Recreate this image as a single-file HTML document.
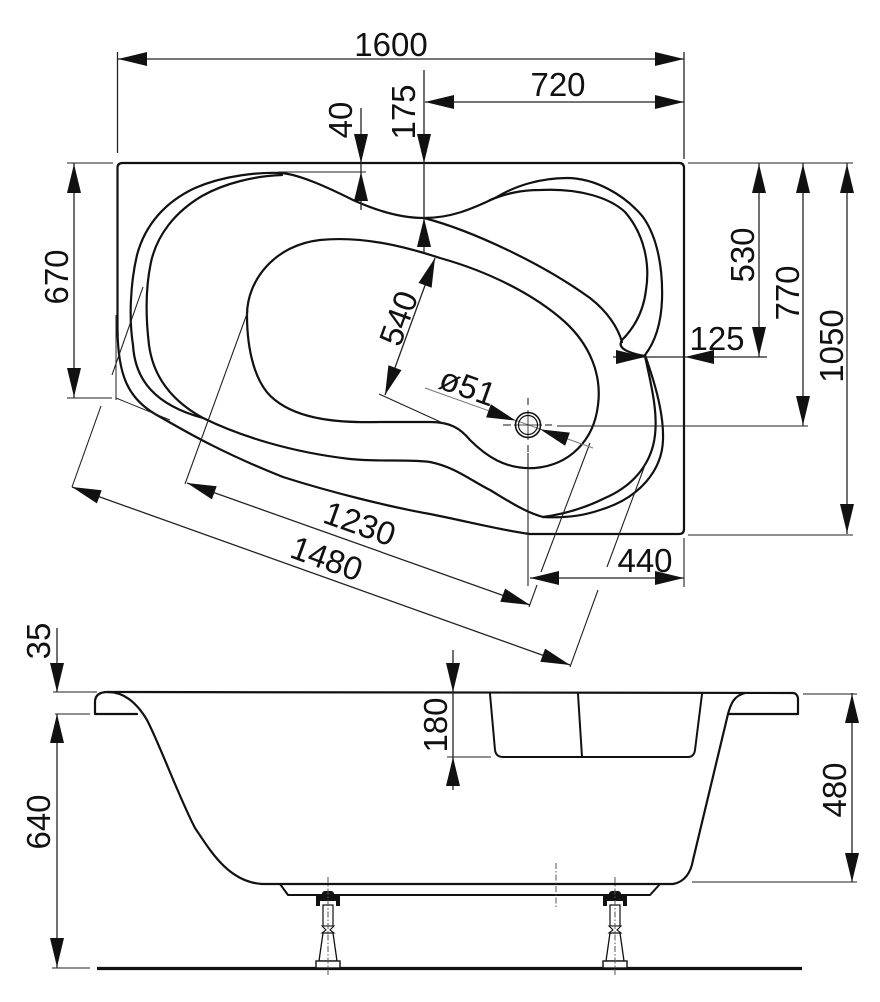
<!DOCTYPE html>
<html>
<head>
<meta charset="utf-8">
<style>
  html,body{margin:0;padding:0;background:#fff;}
  svg{display:block;}
  text{font-family:"Liberation Sans",Arial,sans-serif;font-size:33px;fill:#111;}
</style>
</head>
<body>
<svg width="880" height="1002" viewBox="0 0 880 1002" xmlns="http://www.w3.org/2000/svg">
<rect width="880" height="1002" fill="#fff"/>

<!-- ================= TOP VIEW ================= -->
<g fill="none" stroke="#111" stroke-width="2.2" stroke-linejoin="round" stroke-linecap="round">
  <!-- rectangle + apron -->
  <path d="M117.5,335 L117.5,168 Q117.5,163 122.5,163 L679,163 Q684,163 684,168 L684,529 Q684,534 679,534 L530,534"/>
  <path d="M117.5,330 C118,375 128,398 155,414 C180,428 215,450 283,477 C330,492 390,507 430,514 C470,522 500,530 530,534"/>
  <!-- outer rim left lobe (alpha) -->
  <path d="M282,173 C260,172 225,175 195,188 C165,202 145,225 137,255 C130,285 129,320 133,345 C135,380 155,405 203,418"/>
  <!-- outer rim top + right lobe -->
  <path d="M282,173 C300,175 325,186 353,200 C375,210 400,218 424,218 C450,218 470,210 497,197 C515,186 540,178 567,178 C595,178 625,195 643,217 C658,238 663,270 662,300 C661,325 655,342 645,355 C652,375 664,410 663,440 C662,470 640,498 600,510 C580,517 560,518 543,517"/>
  <!-- inner rim (beta) -->
  <path d="M282,175 C255,176 225,183 202,196 C175,212 157,235 151,262 C145,290 146,320 149,345 C153,375 170,400 203,418 C240,436 290,452 350,459 C380,462 410,459 430,462 C455,467 470,480 490,490 C510,502 525,512 543,517"/>
  <!-- right lobe inner -->
  <path d="M490,200 C505,194 520,190 540,190 C580,188 610,198 625,212 C645,235 650,265 646,290 C643,315 632,330 622,340 C618,346 622,352 645,356"/>
  <!-- diagonal from neck to hook -->
  <path d="M424,218 C470,230 540,262 590,298 C608,312 618,328 622,342"/>
  <!-- right side second line -->
  <path d="M645,356 C650,380 658,410 655,435 C652,462 635,485 605,498 C585,508 565,514 543,517"/>
  <!-- basin -->
  <path d="M247,315 C247,280 275,245 320,240 C360,236 400,245 440,258 C490,272 535,295 565,322 C590,345 602,375 598,405 C594,440 570,465 535,468 C505,470 485,455 470,440 C460,428 450,422 430,422 L380,422 C340,423 300,420 275,400 C255,385 247,350 247,315 Z"/>
</g>

<!-- dimension & extension lines (top view) -->
<g fill="none" stroke="#222" stroke-width="1.3">
  <line x1="118" y1="59" x2="684" y2="59"/>
  <line x1="117.5" y1="52" x2="117.5" y2="153"/>
  <line x1="684" y1="52" x2="684" y2="159"/>
  <line x1="425" y1="102" x2="684" y2="102"/>
  <line x1="424" y1="70" x2="424" y2="253"/>
  <line x1="361" y1="108" x2="361" y2="210"/>
  <line x1="278" y1="172" x2="366" y2="172" stroke-width="1"/>
  <line x1="74" y1="163" x2="74" y2="398"/>
  <line x1="67" y1="163" x2="113" y2="163" stroke-width="1"/>
  <line x1="67" y1="398" x2="112" y2="398" stroke-width="1"/>
  <line x1="116" y1="315" x2="116" y2="400" stroke-width="1"/>
  <line x1="116" y1="398" x2="170" y2="420" stroke-width="1"/>
  <line x1="688" y1="163" x2="853" y2="163" stroke-width="1"/>
  <line x1="688" y1="535" x2="853" y2="535" stroke-width="1"/>
  <line x1="759" y1="163" x2="759" y2="357"/>
  <line x1="803" y1="163" x2="803" y2="426"/>
  <line x1="847" y1="163" x2="847" y2="534"/>
  <line x1="613" y1="357" x2="767" y2="357"/>
  <line x1="557" y1="426" x2="808" y2="426" stroke-width="1.1"/>
  <line x1="530" y1="578" x2="684" y2="578"/>
  <line x1="528" y1="453" x2="528" y2="586" stroke-width="1.1"/>
  <line x1="684" y1="538" x2="684" y2="587" stroke-width="1.1"/>
  <line x1="72" y1="487" x2="570" y2="665"/>
  <line x1="187" y1="483" x2="530" y2="605"/>
  <line x1="72" y1="487" x2="101" y2="406" stroke-width="1.1"/>
  <line x1="112" y1="375" x2="143" y2="287" stroke-width="1.1"/>
  <line x1="185" y1="484" x2="248" y2="311" stroke-width="1.1"/>
  <line x1="529" y1="607" x2="537" y2="585" stroke-width="1.1"/>
  <line x1="541" y1="572" x2="590" y2="443" stroke-width="1.1"/>
  <line x1="570" y1="667" x2="598" y2="590" stroke-width="1.1"/>
  <line x1="607" y1="567" x2="645" y2="465" stroke-width="1.1"/>
  <line x1="385" y1="395" x2="435" y2="258"/>
  <line x1="379" y1="394" x2="445" y2="424" stroke-width="1.1"/>
</g>
<line x1="425" y1="388" x2="593" y2="448" stroke="#777" stroke-width="1"/>
<!-- drain -->
<g fill="none" stroke="#111">
  <circle cx="528" cy="425" r="12.5" stroke-width="1.6"/>
  <circle cx="528" cy="425" r="9.5" stroke-width="1.2"/>
  <line x1="528" y1="398" x2="528" y2="405" stroke-width="1"/>
  <line x1="528" y1="410" x2="528" y2="440" stroke-width="0.8"/>
  <line x1="528" y1="445" x2="528" y2="452" stroke-width="1"/>
  <line x1="503" y1="425" x2="511" y2="425" stroke-width="1"/>
  <line x1="514" y1="425" x2="542" y2="425" stroke-width="0.8"/>
  <line x1="545" y1="425" x2="552" y2="425" stroke-width="1"/>
</g>

<!-- arrowheads top view -->
<g fill="#111" stroke="none">
  <polygon points="118,59 147,52 147,66"/>
  <polygon points="684,59 655,52 655,66"/>
  <polygon points="425,102 454,95 454,109"/>
  <polygon points="684,102 655,95 655,109"/>
  <polygon points="424,163 417,134 431,134"/>
  <polygon points="424,218 417,247 431,247"/>
  <polygon points="361,163 354,134 368,134"/>
  <polygon points="361,172 354,201 368,201"/>
  <polygon points="74,164 67,193 81,193"/>
  <polygon points="74,397 67,368 81,368"/>
  <polygon points="759,164 752,193 766,193"/>
  <polygon points="759,356 752,327 766,327"/>
  <polygon points="803,164 796,193 810,193"/>
  <polygon points="803,425 796,396 810,396"/>
  <polygon points="847,164 840,193 854,193"/>
  <polygon points="847,533 840,504 854,504"/>
  <polygon points="645,357 616,350 616,364"/>
  <polygon points="685,357 714,350 714,364"/>
  <polygon points="530,578 559,571 559,585"/>
  <polygon points="684,578 655,571 655,585"/>
  <polygon points="72,487 96.9,503.4 101.7,490.2"/>
  <polygon points="570,665 540.3,661.8 545.1,648.6"/>
  <polygon points="187,483 211.9,499.4 216.7,486.2"/>
  <polygon points="530,605 500.3,601.8 505.1,588.6"/>
  <polygon points="435,258 431.6,287.7 418.5,282.9"/>
  <polygon points="385,395 401.5,370.1 388.4,365.3"/>
  <polygon points="515.8,420.6 486.1,417.4 490.9,404.3"/>
  <polygon points="540.2,429.4 565.1,445.8 569.9,432.6"/>
</g>

<!-- texts top view -->
<text x="391" y="56" text-anchor="middle">1600</text>
<text x="558" y="96" text-anchor="middle">720</text>
<text transform="translate(340,120) rotate(-90)" x="0" y="12" text-anchor="middle">40</text>
<text transform="translate(403,112) rotate(-90)" x="0" y="12" text-anchor="middle">175</text>
<text transform="translate(56,277) rotate(-90)" x="0" y="12" text-anchor="middle">670</text>
<text transform="translate(742,255) rotate(-90)" x="0" y="12" text-anchor="middle">530</text>
<text transform="translate(787,293) rotate(-90)" x="0" y="12" text-anchor="middle">770</text>
<text transform="translate(831,346) rotate(-90)" x="0" y="12" text-anchor="middle">1050</text>
<text x="717" y="350" text-anchor="middle">125</text>
<text x="645" y="572" text-anchor="middle">440</text>
<text transform="translate(398,318) rotate(-70)" x="0" y="12" text-anchor="middle">540</text>
<text transform="translate(468,386) rotate(19.6)" x="0" y="12" text-anchor="middle">ø51</text>
<text transform="translate(360,523) rotate(19.6)" x="0" y="12" text-anchor="middle">1230</text>
<text transform="translate(327,558) rotate(19.9)" x="0" y="12" text-anchor="middle">1480</text>

<!-- ================= SIDE VIEW ================= -->
<g fill="none" stroke="#111" stroke-width="2.2" stroke-linejoin="round" stroke-linecap="round">
  <path d="M137,714 L95,714 L95,702 C95,695 100,692 108,692"/>
  <path d="M108,692 L793,693 C796,693 798,696 798,699 L798,714 L728,714"/>
  <path d="M108,692 C122,692 135,700 147,720 C160,745 178,795 195,828 C210,850 228,882 262,884 L673,884 C685,882 691,872 693,860 L728,714 C731,703 734,696 745,693"/>
  <path d="M280,884 L288,895 L650,895 L660,884" stroke-width="2"/>
  <path d="M490,694 L495,750 Q496,757 503,757 L688,757 Q694,757 695,750 L702,694" stroke-width="2"/>
  <path d="M578,694 L582,757" stroke-width="2"/>
</g>
<line x1="97" y1="968.5" x2="802" y2="968.5" stroke="#111" stroke-width="3.2"/>

<!-- legs -->
<g>
  <rect x="322" y="891" width="12" height="6" rx="3" fill="#111"/>
  <rect x="316" y="896" width="24" height="5" fill="#111"/>
  <rect x="316" y="900" width="4" height="6" fill="#111"/>
  <rect x="336" y="900" width="4" height="6" fill="#111"/>
  <rect x="323" y="905" width="10" height="21" fill="#fff" stroke="#111" stroke-width="1.2"/>
  <polygon points="322,926 334,926 330,930 334,933 322,933 326,930" fill="#fff" stroke="#111" stroke-width="1.1"/>
  <polygon points="323,933 333,933 337,961 319,961" fill="#fff" stroke="#111" stroke-width="1.3"/>
  <rect x="316" y="961" width="24" height="7" fill="#fff" stroke="#111" stroke-width="1.4"/>
  <line x1="328" y1="877" x2="328" y2="976" stroke="#555" stroke-width="1" stroke-dasharray="6,2,1.5,2"/>
</g>
<g>
  <rect x="609" y="891" width="12" height="6" rx="3" fill="#111"/>
  <rect x="603" y="896" width="24" height="5" fill="#111"/>
  <rect x="603" y="900" width="4" height="6" fill="#111"/>
  <rect x="623" y="900" width="4" height="6" fill="#111"/>
  <rect x="610" y="905" width="10" height="21" fill="#fff" stroke="#111" stroke-width="1.2"/>
  <polygon points="609,926 621,926 617,930 621,933 609,933 613,930" fill="#fff" stroke="#111" stroke-width="1.1"/>
  <polygon points="610,933 620,933 624,961 606,961" fill="#fff" stroke="#111" stroke-width="1.3"/>
  <rect x="603" y="961" width="24" height="7" fill="#fff" stroke="#111" stroke-width="1.4"/>
  <line x1="615" y1="877" x2="615" y2="976" stroke="#555" stroke-width="1" stroke-dasharray="6,2,1.5,2"/>
</g>
<line x1="556" y1="863" x2="556" y2="907" stroke="#555" stroke-width="1" stroke-dasharray="6,2,1.5,2"/>

<!-- side view dims -->
<g fill="none" stroke="#222" stroke-width="1.3">
  <line x1="57" y1="628" x2="57" y2="692"/>
  <line x1="57" y1="714" x2="57" y2="968"/>
  <line x1="53" y1="692" x2="97" y2="692" stroke-width="1"/>
  <line x1="55" y1="714" x2="90" y2="714" stroke-width="1"/>
  <line x1="52" y1="968" x2="90" y2="968" stroke-width="1"/>
  <line x1="453" y1="650" x2="453" y2="790"/>
  <line x1="447" y1="757" x2="491" y2="757" stroke-width="1"/>
  <line x1="852" y1="693" x2="852" y2="882"/>
  <line x1="803" y1="694" x2="857" y2="694" stroke-width="1"/>
  <line x1="692" y1="882" x2="857" y2="882" stroke-width="1"/>
</g>
<g fill="#111">
  <polygon points="57,692 50,663 64,663"/>
  <polygon points="57,714 50,743 64,743"/>
  <polygon points="57,967 50,938 64,938"/>
  <polygon points="453,692 446,663 460,663"/>
  <polygon points="453,757 446,786 460,786"/>
  <polygon points="852,694 845,723 859,723"/>
  <polygon points="852,882 845,853 859,853"/>
</g>
<text transform="translate(38,641) rotate(-90)" x="0" y="12" text-anchor="middle">35</text>
<text transform="translate(38,822) rotate(-90)" x="0" y="12" text-anchor="middle">640</text>
<text transform="translate(435,725) rotate(-90)" x="0" y="12" text-anchor="middle">180</text>
<text transform="translate(834,790) rotate(-90)" x="0" y="12" text-anchor="middle">480</text>
</svg>
</body>
</html>
